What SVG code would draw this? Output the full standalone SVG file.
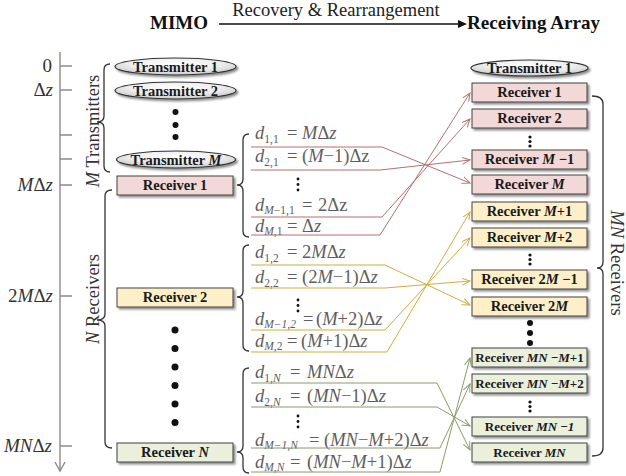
<svg xmlns="http://www.w3.org/2000/svg" width="626" height="476" viewBox="0 0 626 476" font-family="'Liberation Serif', Tinos, 'Times New Roman', 'DejaVu Serif', serif">
<defs>
<style>
text{font-family:"Liberation Serif","Tinos","Times New Roman","DejaVu Serif",serif}
.hd{font-size:19px;font-weight:bold;fill:#111}
.cap{font-size:18.5px;fill:#222}
.lbl{font-size:14.5px;font-weight:bold;fill:#1a1a1a;text-anchor:middle}
.sm{font-size:13px}
.i{font-style:italic}
.eq{font-size:18.5px;fill:#5e5e5e}
.sub{font-size:11.5px}
.ax{font-size:19px;fill:#333;text-anchor:end}
.side{font-size:18.5px;fill:#333;text-anchor:middle}
.br{fill:none;stroke:#333;stroke-width:1.3}
.axl{fill:none;stroke:#8a8a8a;stroke-width:1.4}
.r1{fill:#f2d8d6;stroke:#404040;stroke-width:1;filter:url(#sh)}
.r2{fill:#fdf0c9;stroke:#404040;stroke-width:1;filter:url(#sh)}
.r3{fill:#eaf0dc;stroke:#404040;stroke-width:1;filter:url(#sh)}
.tx{fill:url(#eg);stroke:#333;stroke-width:1.2;filter:url(#sh)}
.c1{fill:none;stroke:#b4716f;stroke-width:1}
.c2{fill:none;stroke:#d0ad3e;stroke-width:1}
.c3{fill:none;stroke:#8c9a6c;stroke-width:1}
.dot{fill:#111}
</style>
<filter id="sh" x="-10%" y="-30%" width="125%" height="170%">
<feDropShadow dx="2" dy="2" stdDeviation="1" flood-color="#000" flood-opacity="0.45"/>
</filter>
<radialGradient id="eg" cx="50%" cy="35%" r="65%">
<stop offset="0" stop-color="#ffffff"/>
<stop offset="0.6" stop-color="#ececec"/>
<stop offset="1" stop-color="#c8c8c8"/>
</radialGradient>
<marker id="a1" markerWidth="10" markerHeight="8" refX="8" refY="4" orient="auto" markerUnits="userSpaceOnUse"><path d="M0,0.5 L8,4 L0,7.5" fill="none" stroke="#b4716f" stroke-width="1"/></marker>
<marker id="a2" markerWidth="10" markerHeight="8" refX="8" refY="4" orient="auto" markerUnits="userSpaceOnUse"><path d="M0,0.5 L8,4 L0,7.5" fill="none" stroke="#d0ad3e" stroke-width="1"/></marker>
<marker id="a3" markerWidth="10" markerHeight="8" refX="8" refY="4" orient="auto" markerUnits="userSpaceOnUse"><path d="M0,0.5 L8,4 L0,7.5" fill="none" stroke="#8c9a6c" stroke-width="1"/></marker>
</defs>
<rect width="626" height="476" fill="#fff"/>

<!-- header -->
<g id="header">
<text class="hd" x="150" y="29">MIMO</text>
<text class="cap" x="336" y="16" text-anchor="middle">Recovery &amp; Rearrangement</text>
<line x1="219" y1="24" x2="459" y2="24" stroke="#111" stroke-width="1.5"/>
<polygon points="458,20 467,24 458,28" fill="#111"/>
<text class="hd" x="467" y="29" textLength="133" lengthAdjust="spacingAndGlyphs">Receiving Array</text>
</g>

<!-- axis -->
<g id="axis">
<line class="axl" x1="60" y1="52" x2="60" y2="471"/>
<polyline class="axl" points="55,462 60,471 65,462"/>
<path class="axl" d="M60,66H72M60,90H72M60,135H72M60,159H72M60,185H72M60,296H72M60,446H72"/>
<text class="ax" x="52" y="72">0</text>
<text class="ax" x="53" y="96">Δ<tspan class="i">z</tspan></text>
<text class="ax" x="53" y="191"><tspan class="i">M</tspan>Δ<tspan class="i">z</tspan></text>
<text class="ax" x="53" y="302">2<tspan class="i">M</tspan>Δ<tspan class="i">z</tspan></text>
<text class="ax" x="52" y="452"><tspan class="i">MN</tspan>Δ<tspan class="i">z</tspan></text>
</g>

<!-- side labels and braces -->
<g id="m-transmitters">
<path class="br" d="M110,64 Q104,64 104,70 L104,116 Q104,122 97,122 Q104,122 104,128 L104,166 Q104,172 110,172"/>
<text class="side" transform="translate(99,131) rotate(-90)"><tspan class="i">M</tspan> Transmitters</text>
</g>
<g id="n-receivers">
<path class="br" d="M112,190 Q105,190 105,196 L105,314 Q105,320 97,320 Q105,320 105,326 L105,442 Q105,448 112,448"/>
<text class="side" transform="translate(99,299) rotate(-90)"><tspan class="i">N</tspan> Receivers</text>
</g>
<g id="mn-receivers">
<path class="br" d="M592,96 Q603,96 603,104 L603,262 Q603,268 597,268 Q603,268 603,274 L603,448 Q603,456 592,456"/>
<text class="side" transform="translate(611,263) rotate(90)"><tspan class="i">MN</tspan> Receivers</text>
</g>

<!-- left transmitters -->
<g id="tx1"><ellipse class="tx" cx="175.5" cy="66.5" rx="60.5" ry="8.5"/><text class="lbl" x="175.5" y="71.5">Transmitter 1</text></g>
<g id="tx2"><ellipse class="tx" cx="175.5" cy="90.5" rx="60.5" ry="8.5"/><text class="lbl" x="175.5" y="95.5">Transmitter 2</text></g>
<g id="tx-dots"><circle class="dot" cx="175.5" cy="112" r="3"/><circle class="dot" cx="175.5" cy="125" r="3"/><circle class="dot" cx="175.5" cy="137" r="3"/></g>
<g id="txM"><ellipse class="tx" cx="176" cy="159.5" rx="59.5" ry="8.5"/><text class="lbl" x="176" y="164.5">Transmitter <tspan class="i">M</tspan></text></g>

<!-- left receivers -->
<g id="rx1"><rect class="r1" x="117" y="176" width="116" height="19"/><text class="lbl" x="175" y="190">Receiver 1</text></g>
<g id="rx2"><rect class="r2" x="117" y="288" width="116" height="19"/><text class="lbl" x="175" y="302">Receiver 2</text></g>
<g id="rx-dots"><circle class="dot" cx="175" cy="330" r="3.5"/><circle class="dot" cx="175" cy="348.5" r="3.5"/><circle class="dot" cx="175" cy="367" r="3.5"/><circle class="dot" cx="175" cy="385.5" r="3.5"/><circle class="dot" cx="175" cy="404" r="3.5"/><circle class="dot" cx="175" cy="422.5" r="3.5"/></g>
<g id="rxN"><rect class="r3" x="117" y="443" width="116" height="19"/><text class="lbl" x="175" y="457">Receiver <tspan class="i">N</tspan></text></g>

<!-- distance group 1 -->
<g id="dist1">
<path class="br" d="M249,134 Q243,134 243,140 L243,179 Q243,185 237,185 Q243,185 243,191 L243,231 Q243,237 249,237"/>
<text class="eq" y="139"><tspan x="255" class="i">d</tspan><tspan class="sub" dy="3.5">1,1</tspan><tspan dy="-3.5" x="287">=</tspan><tspan x="302" class="i">M</tspan>Δ<tspan class="i">z</tspan></text>
<text class="eq" y="162"><tspan x="255" class="i">d</tspan><tspan class="sub" dy="3.5">2,1</tspan><tspan dy="-3.5" x="287">=</tspan><tspan x="302">(</tspan><tspan class="i">M</tspan>−1)Δz</text>
<g class="dot"><circle cx="298" cy="179" r="1.4"/><circle cx="298" cy="184.5" r="1.4"/><circle cx="298" cy="190" r="1.4"/></g>
<text class="eq" y="211"><tspan x="255" class="i">d</tspan><tspan class="sub" dy="3"><tspan class="i">M</tspan>−1,1</tspan><tspan dy="-3" x="302">=</tspan><tspan x="318">2Δz</tspan></text>
<text class="eq" y="232"><tspan x="255" class="i">d</tspan><tspan class="sub" dy="3"><tspan class="i">M</tspan>,1</tspan><tspan dy="-3" x="287">=</tspan><tspan x="302">Δ</tspan><tspan class="i">z</tspan></text>
</g>

<!-- distance group 2 -->
<g id="dist2">
<path class="br" d="M249,245 Q243,245 243,251 L243,291 Q243,297 237,297 Q243,297 243,303 L243,345 Q243,351 249,351"/>
<text class="eq" y="258"><tspan x="255" class="i">d</tspan><tspan class="sub" dy="3.5">1,2</tspan><tspan dy="-3.5" x="287">=</tspan><tspan x="302">2</tspan><tspan class="i">M</tspan>Δ<tspan class="i">z</tspan></text>
<text class="eq" y="283"><tspan x="255" class="i">d</tspan><tspan class="sub" dy="3.5">2,2</tspan><tspan dy="-3.5" x="287">=</tspan><tspan x="302">(2</tspan><tspan class="i">M</tspan>−1)Δ<tspan class="i">z</tspan></text>
<g class="dot"><circle cx="298" cy="300" r="1.4"/><circle cx="298" cy="305.5" r="1.4"/><circle cx="298" cy="311" r="1.4"/></g>
<text class="eq" y="325"><tspan x="255" class="i">d</tspan><tspan class="sub i" dy="3">M−1,2</tspan><tspan dy="-3" x="303">=</tspan><tspan x="316">(</tspan><tspan class="i">M</tspan>+2)Δ<tspan class="i">z</tspan></text>
<text class="eq" y="347"><tspan x="255" class="i">d</tspan><tspan class="sub" dy="3"><tspan class="i">M</tspan>,2</tspan><tspan dy="-3" x="287">=</tspan><tspan x="301">(</tspan><tspan class="i">M</tspan>+1)Δ<tspan class="i">z</tspan></text>
</g>

<!-- distance group N -->
<g id="distN">
<path class="br" d="M249,368 Q243,368 243,374 L243,446 Q243,452 237,452 Q243,452 243,458 L243,467 Q243,473 249,473"/>
<text class="eq" y="378"><tspan x="255" class="i">d</tspan><tspan class="sub" dy="3.5">1,<tspan class="i">N</tspan></tspan><tspan dy="-3.5" x="290">=</tspan><tspan x="307" class="i">MN</tspan>Δ<tspan class="i">z</tspan></text>
<text class="eq" y="402"><tspan x="255" class="i">d</tspan><tspan class="sub" dy="3.5">2,<tspan class="i">N</tspan></tspan><tspan dy="-3.5" x="290">=</tspan><tspan x="307">(</tspan><tspan class="i">MN</tspan>−1)Δ<tspan class="i">z</tspan></text>
<g class="dot"><circle cx="298" cy="416" r="1.4"/><circle cx="298" cy="421.5" r="1.4"/><circle cx="298" cy="427" r="1.4"/></g>
<text class="eq" y="446"><tspan x="255" class="i">d</tspan><tspan class="sub i" dy="3">M−1,N</tspan><tspan dy="-3" x="309">=</tspan><tspan x="324">(</tspan><tspan class="i">MN</tspan>−<tspan class="i">M</tspan>+2)Δ<tspan class="i">z</tspan></text>
<text class="eq" y="468"><tspan x="255" class="i">d</tspan><tspan class="sub i" dy="3">M,N</tspan><tspan dy="-3" x="290">=</tspan><tspan x="307">(</tspan><tspan class="i">MN</tspan>−<tspan class="i">M</tspan>+1)Δ<tspan class="i">z</tspan></text>
</g>

<!-- receiving array -->
<g id="rtx1"><ellipse class="tx" cx="529.5" cy="68" rx="58.5" ry="8"/><text class="lbl" x="529.5" y="73">Transmitter 1</text></g>
<g id="r-1"><rect class="r1" x="472" y="83" width="115" height="19"/><text class="lbl" x="529.5" y="97">Receiver 1</text></g>
<g id="r-2"><rect class="r1" x="472" y="109" width="115" height="19"/><text class="lbl" x="529.5" y="123">Receiver 2</text></g>
<g id="r-dots1" class="dot"><circle cx="530" cy="137" r="1.6"/><circle cx="530" cy="141.5" r="1.6"/><circle cx="530" cy="146" r="1.6"/></g>
<g id="r-M-1"><rect class="r1" x="472" y="150" width="115" height="19"/><text class="lbl" x="529.5" y="164">Receiver <tspan class="i">M</tspan> −1</text></g>
<g id="r-M"><rect class="r1" x="472" y="175" width="115" height="19"/><text class="lbl" x="529.5" y="189">Receiver <tspan class="i">M</tspan></text></g>
<g id="r-M+1"><rect class="r2" x="472" y="202" width="115" height="19"/><text class="lbl" x="529.5" y="216">Receiver <tspan class="i">M</tspan>+1</text></g>
<g id="r-M+2"><rect class="r2" x="472" y="228" width="115" height="19"/><text class="lbl" x="529.5" y="242">Receiver <tspan class="i">M</tspan>+2</text></g>
<g id="r-dots2" class="dot"><circle cx="530" cy="255" r="1.6"/><circle cx="530" cy="259.5" r="1.6"/><circle cx="530" cy="264" r="1.6"/></g>
<g id="r-2M-1"><rect class="r2" x="472" y="270" width="115" height="19"/><text class="lbl" x="529.5" y="284">Receiver 2<tspan class="i">M</tspan> −1</text></g>
<g id="r-2M"><rect class="r2" x="472" y="297" width="115" height="19"/><text class="lbl" x="529.5" y="311">Receiver 2<tspan class="i">M</tspan></text></g>
<g id="r-dots3" class="dot"><circle cx="530" cy="323" r="3"/><circle cx="530" cy="333" r="3"/><circle cx="530" cy="343" r="3"/></g>
<g id="r-MN-M+1"><rect class="r3" x="472" y="348" width="115" height="19"/><text class="lbl sm" x="529.5" y="362">Receiver <tspan class="i">MN</tspan> −<tspan class="i">M</tspan>+1</text></g>
<g id="r-MN-M+2"><rect class="r3" x="472" y="374" width="115" height="19"/><text class="lbl sm" x="529.5" y="388">Receiver <tspan class="i">MN</tspan> −<tspan class="i">M</tspan>+2</text></g>
<g id="r-dots4" class="dot"><circle cx="530" cy="402" r="1.6"/><circle cx="530" cy="406.5" r="1.6"/><circle cx="530" cy="411" r="1.6"/></g>
<g id="r-MN-1"><rect class="r3" x="472" y="417" width="115" height="19"/><text class="lbl sm" x="529.5" y="431">Receiver <tspan class="i">MN</tspan> −<tspan class="i">1</tspan></text></g>
<g id="r-MN"><rect class="r3" x="472" y="443" width="115" height="19"/><text class="lbl sm" x="529.5" y="457">Receiver <tspan class="i">MN</tspan></text></g>

<!-- connectors -->
<g id="connectors">
<polyline class="c1" points="251,147 382,147 470,183" marker-end="url(#a1)"/>
<polyline class="c1" points="251,170 380,170 470,160" marker-end="url(#a1)"/>
<polyline class="c1" points="251,217 382,217 470,119" marker-end="url(#a1)"/>
<polyline class="c1" points="251,235 380,235 470,93" marker-end="url(#a1)"/>
<polyline class="c2" points="251,265 385,265 470,305" marker-end="url(#a2)"/>
<polyline class="c2" points="251,288 385,288 470,281" marker-end="url(#a2)"/>
<polyline class="c2" points="251,330 385,330 470,238" marker-end="url(#a2)"/>
<polyline class="c2" points="251,352 387,352 470,212" marker-end="url(#a2)"/>
<polyline class="c3" points="251,383 437,383 470,450" marker-end="url(#a3)"/>
<polyline class="c3" points="251,407 437,407 470,426" marker-end="url(#a3)"/>
<polyline class="c3" points="251,448 440,448 470,384" marker-end="url(#a3)"/>
<polyline class="c3" points="251,472 440,472 470,358" marker-end="url(#a3)"/>
</g>
</svg>
